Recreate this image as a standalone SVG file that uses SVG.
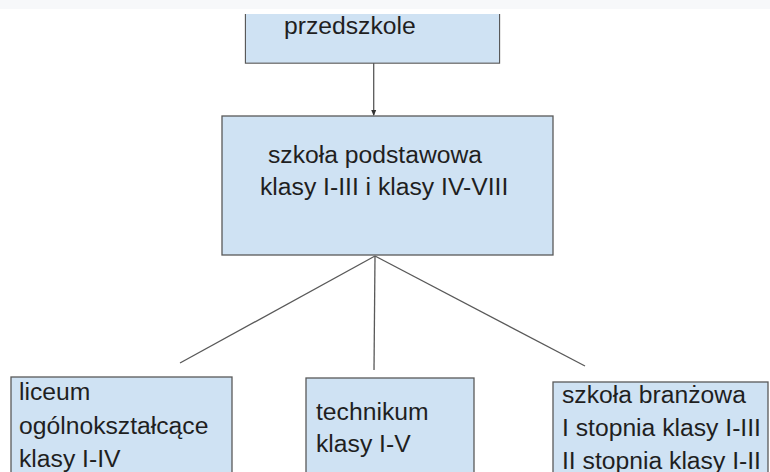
<svg xmlns="http://www.w3.org/2000/svg" width="770" height="472" viewBox="0 0 770 472">
<defs>
<style>
.box{fill:#cfe2f3;stroke:#595959;stroke-width:1.3}
.t{font-family:"Liberation Sans",Arial,sans-serif;font-size:24.7px;fill:#1f1f1f}
.c{stroke:#595959;stroke-width:1.3;fill:none}
</style>
<marker id="ah" markerWidth="6" markerHeight="8" refX="5" refY="4" orient="auto" markerUnits="userSpaceOnUse">
<path d="M0,1.5 L6,4 L0,6.5 Z" fill="#333"/>
</marker>
</defs>
<rect x="0" y="0" width="770" height="472" fill="#ffffff"/>
<rect x="0" y="0" width="770" height="9" fill="#f7f8fa"/>
<g id="connectors">
<line class="c" x1="373.7" y1="63" x2="373.7" y2="115" marker-end="url(#ah)"/>
<line class="c" x1="375" y1="256" x2="180" y2="363"/>
<line class="c" x1="375" y1="256" x2="374" y2="370"/>
<line class="c" x1="375" y1="256" x2="585" y2="366"/>
</g>
<g id="przedszkole">
<path class="box" d="M245.5,14 V63 H499.5 V14"/>
<rect x="246" y="14" width="253" height="48.5" fill="#cfe2f3"/>
<text class="t" x="284" y="34">przedszkole</text>
</g>
<g id="szkola-podstawowa">
<rect class="box" x="222" y="116" width="331" height="139"/>
<text class="t" x="268" y="163">szkoła podstawowa</text>
<text class="t" x="260" y="195">klasy I-III i klasy IV-VIII</text>
</g>
<g id="liceum">
<rect class="box" x="11" y="377" width="221" height="110"/>
<text class="t" x="19" y="400">liceum</text>
<text class="t" x="19" y="433.5">ogólnokształcące</text>
<text class="t" x="19" y="467">klasy I-IV</text>
</g>
<g id="technikum">
<rect class="box" x="306" y="378" width="168" height="110"/>
<text class="t" x="316" y="420">technikum</text>
<text class="t" x="316" y="452">klasy I-V</text>
</g>
<g id="szkola-branzowa">
<rect class="box" x="553" y="382" width="215" height="110"/>
<text class="t" x="562" y="403">szkoła branżowa</text>
<text class="t" x="562" y="436">I stopnia klasy I-III</text>
<text class="t" x="562" y="469">II stopnia klasy I-II</text>
</g>
</svg>
